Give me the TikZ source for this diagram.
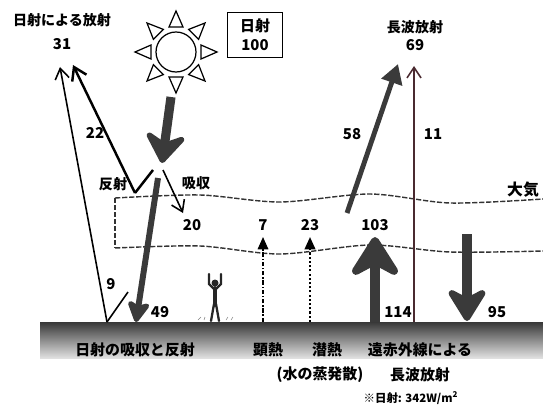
\documentclass[tikz,border=0pt]{standalone}
\usepackage{fontspec}
\setmainfont{Noto Sans CJK JP}
\usetikzlibrary{arrows.meta,calc}

\definecolor{arrowgray}{HTML}{3A3A3A}
\definecolor{lwline}{HTML}{4A2A30}

\tikzset{
  lbl/.style={font=\bfseries\fontsize{8}{9}\selectfont, inner sep=1pt},
  num/.style={font=\bfseries\fontsize{8.5}{10}\selectfont, inner sep=1pt},
  gnd/.style={font=\bfseries\fontsize{8.5}{10}\selectfont, inner sep=1pt},
  atmos/.style={dash pattern=on 3pt off 1pt, line width=0.8pt, black!80},
  bigarrow/.style={line width=#1, arrowgray},
}

\begin{document}
\begin{tikzpicture}[x=0.02cm, y=-0.02cm]
  \useasboundingbox (0,0) rectangle (543,412);

  % Ground
  \shade[top color=black!78, bottom color=black!12] (40,322) rectangle (543,358);

  % Atmosphere layer
  \draw[atmos] plot[smooth] coordinates {(115,198) (200,195) (280,202) (370,194) (450,203) (543,199)};
  \draw[atmos] plot[smooth] coordinates {(115,248) (200,246) (280,254) (370,245) (450,252) (543,251)};
  \draw[atmos] (115,198) -- (115,248);
  \node[lbl, font=\bfseries\fontsize{9}{10}\selectfont] (air) at (523,190) {大気};

  % Sun
  \coordinate (sun) at (176,52);
  \draw[line width=0.7pt] (sun) circle (0.4cm);
  \foreach \a in {0,45,...,315}
    \draw[line width=0.7pt, fill=white]
      ($(sun)+(\a:41)$) -- ($(sun)+(\a:25)+(\a+90:7)$) -- ($(sun)+(\a:25)+(\a-90:7)$) -- cycle;

  % Headings at the top
  \node[lbl] (outSolar) at (62,20) {日射による放射};
  \node[num] (outSolarVal) at (62,44) {31};
  \node[draw, line width=0.8pt, minimum width=1.1cm, minimum height=0.9cm, align=center,
        font=\bfseries\fontsize{8.5}{11}\selectfont] (solarIn) at (255,35) {日射\\100};
  \node[lbl] (outLw) at (415,27) {長波放射};
  \node[num] (outLwVal) at (415,45) {69};

  % Points along the shortwave paths
  \coordinate (sunOut) at (171,97);
  \coordinate (sunTip) at (162,163);
  \coordinate (vTop) at (153,170);
  \coordinate (reflPt) at (135,193);
  \coordinate (absStart) at (163,170);
  \coordinate (absEnd) at (183,213);
  \coordinate (beamTop) at (158,178);
  \coordinate (beamGnd) at (136,322);
  \coordinate (gndRefl) at (107,322);
  \coordinate (gndArm) at (128,292);
  \coordinate (top22) at (73,65);
  \coordinate (top9) at (60,67);

  % Incoming sunlight
  \draw[bigarrow=5.2pt, -{Stealth[length=20pt, width=28pt, inset=7pt, round]}] (sunOut) -- (sunTip);

  % Reflected by the atmosphere (22)
  \draw[line width=1.4pt] (vTop) -- (reflPt);
  \draw[line width=1.4pt, -{Straight Barb[length=7pt, width=9pt]}] (reflPt) -- (top22);
  \node[num] (v22) at (95,133) {22};
  \node[lbl] (refl) at (113,184) {反射};

  % Absorbed by the atmosphere (20)
  \draw[line width=0.9pt, -{Straight Barb[length=6pt, width=8pt]}] (absStart) -- (absEnd);
  \node[lbl] (abs) at (196,183) {吸収};
  \node[num] (v20) at (192,225) {20};

  % Reaching the ground (49) and reflected from it (9)
  \draw[line width=3.4pt, arrowgray, -{Stealth[length=14pt, width=15pt, inset=3pt, round]}] (beamTop) -- (beamGnd);
  \node[num] (v49) at (160,312) {49};
  \draw[line width=0.9pt] (gndArm) -- (gndRefl);
  \draw[line width=0.9pt, -{Straight Barb[length=6pt, width=8pt]}] (gndRefl) -- (top9);
  \node[num] (v9) at (111,284) {9};

  % Person standing on the ground
  \draw[line width=2.2pt, line cap=round, black!85] (215,288) -- (215,305);
  \draw[line width=1.3pt, line cap=round, black!85] (215,290) -- (209,284) -- (209,274);
  \draw[line width=1.3pt, line cap=round, black!85] (215,290) -- (221,284) -- (221,274);
  \draw[line width=1.3pt, line cap=round, black!85] (214,304) -- (211,321);
  \draw[line width=1.3pt, line cap=round, black!85] (216,304) -- (219,321);
  \fill[black!85] (215,283) circle (0.07cm);
  \draw[black!50, line width=0.3pt] (198,320) -- (201,317) (204,320) -- (205,317) (226,320) -- (228,317) (231,320) -- (233,317);

  % Sensible and latent heat
  \coordinate (sensBase) at (263,322);
  \coordinate (sensTop) at (263,237);
  \coordinate (latBase) at (310,322);
  \coordinate (latTop) at (310,237);
  \draw[line width=0.9pt, dash pattern=on 2.5pt off 1pt on 0.8pt off 1pt, -{Triangle[length=7pt, width=6pt]}] (sensBase) -- (sensTop);
  \draw[line width=1.2pt, dash pattern=on 1.2pt off 1.2pt, -{Triangle[length=7pt, width=6pt]}] (latBase) -- (latTop);
  \node[num] (v7) at (263,225) {7};
  \node[num] (v23) at (310,225) {23};

  % Longwave radiation
  \coordinate (lwUpBase) at (375,322);
  \coordinate (lwUpTip) at (375,237);
  \coordinate (lwDownTop) at (467,234);
  \coordinate (lwDownTip) at (467,321);
  \coordinate (atmOut) at (347,213);
  \coordinate (atmOutTip) at (398,64);
  \coordinate (winBase) at (414,322);
  \coordinate (winTip) at (414,66);
  \draw[bigarrow=5.7pt, -{Stealth[length=27pt, width=34pt, inset=9pt, round]}] (lwUpBase) -- (lwUpTip);
  \draw[bigarrow=5.2pt, -{Stealth[length=22pt, width=27pt, inset=7pt, round]}] (lwDownTop) -- (lwDownTip);
  \draw[line width=2.8pt, arrowgray, -{Triangle[length=11pt, width=12pt]}] (atmOut) -- (atmOutTip);
  \draw[line width=0.9pt, lwline, -{Straight Barb[length=6pt, width=8pt]}] (winBase) -- (winTip);
  \node[num] (v103) at (375,225) {103};
  \node[num] (v58) at (352,134) {58};
  \node[num] (v11) at (433,134) {11};
  \node[num] (v114) at (398,312) {114};
  \node[num] (v95) at (497,312) {95};

  % Labels on the ground
  \node[gnd] (gSolar) at (135,350) {日射の吸収と反射};
  \node[gnd] (gSens) at (268,350) {顕熱};
  \node[gnd] (gLat) at (327,350) {潜熱};
  \node[gnd] (gLatSub) at (320,375) {(水の蒸発散)};
  \node[gnd] (gIr) at (420,350) {遠赤外線による};
  \node[gnd] (gIrSub) at (420,375) {長波放射};
  \node[lbl, font=\bfseries\fontsize{6.5}{8}\selectfont] (note) at (411,398) {※日射: 342W/m\textsuperscript{2}};
\end{tikzpicture}
\end{document}
